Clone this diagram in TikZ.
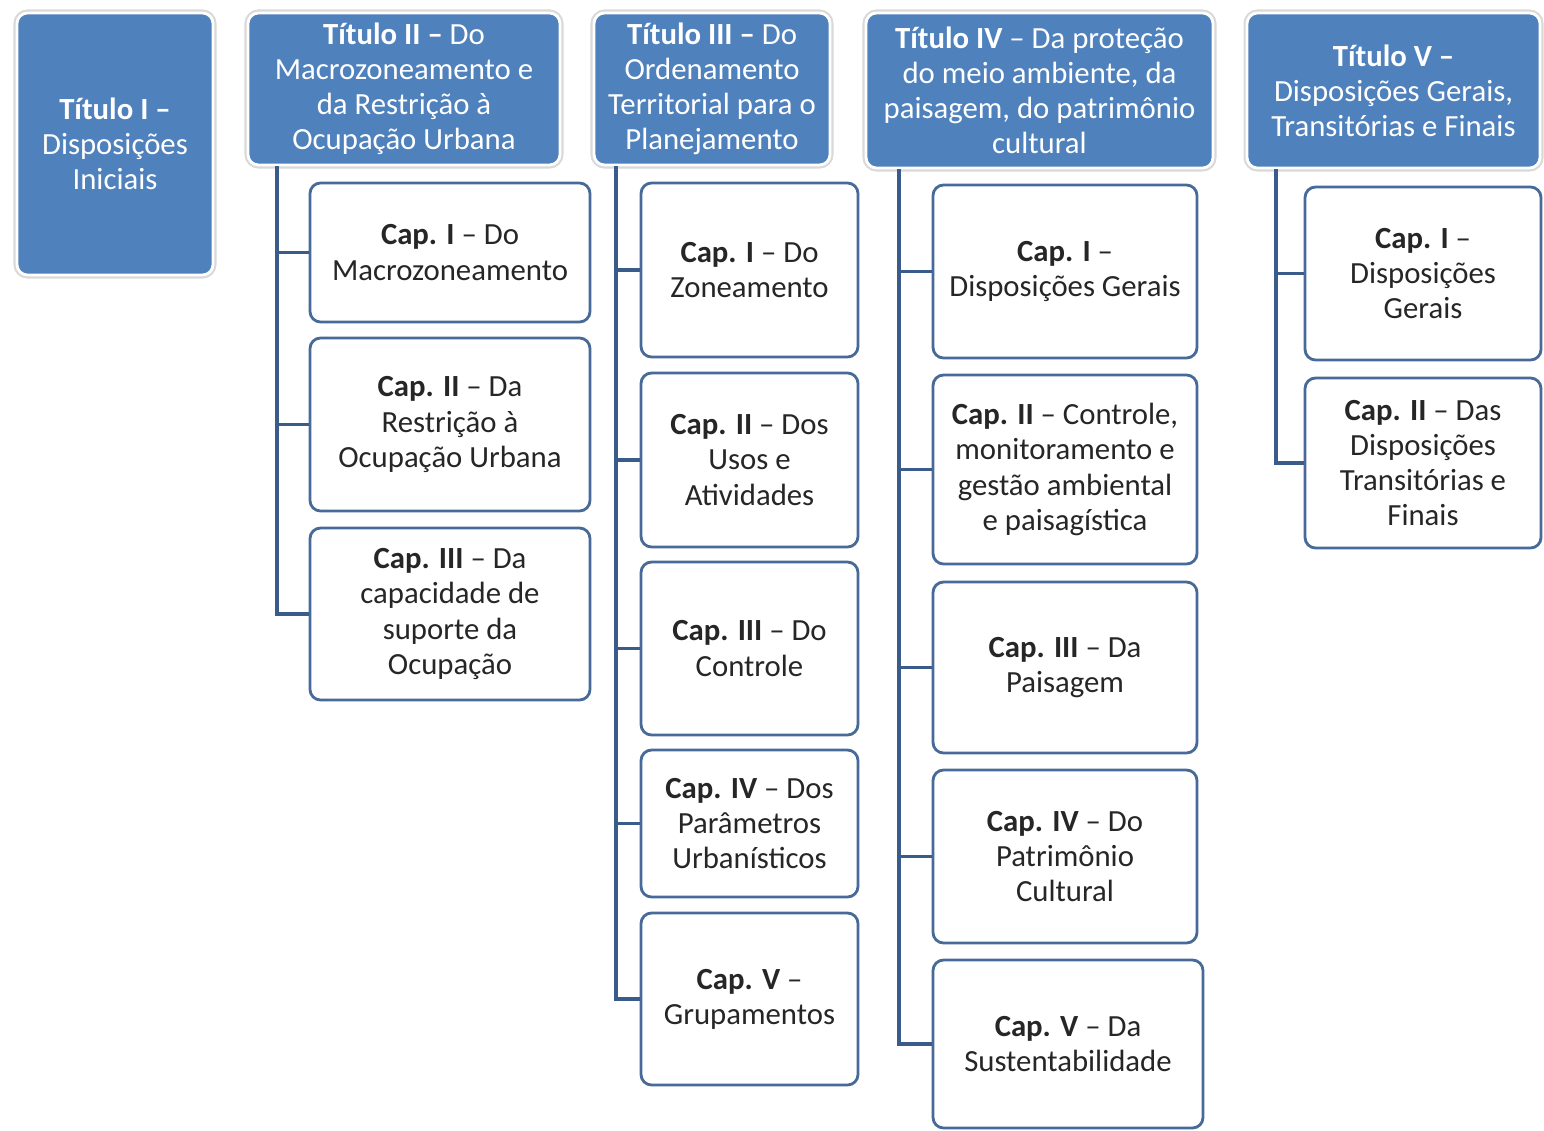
\documentclass[tikz,border=0pt]{standalone}
\usepackage{fontspec}
\setmainfont{Carlito}
\usetikzlibrary{positioning,calc}
\definecolor{tblue}{RGB}{79,129,189}
\definecolor{cedge}{RGB}{72,106,152}
\definecolor{clink}{RGB}{58,92,138}

\begin{document}
\begin{tikzpicture}[
  x=0.2mm, y=-0.2mm,
  font=\fontsize{17.5}{20}\selectfont,
  titulo/.style={rounded corners=6pt, fill=tblue, draw=white, line width=1.6pt,
                 preaction={draw=black!15, line width=4pt},
                 text=white, align=center, inner sep=0pt},
  chap/.style={rounded corners=6pt, fill=white, draw=cedge, line width=1.6pt,
               text=black!85, align=center, inner sep=0pt},
  link/.style={draw=clink, line width=2.2pt}
]
\useasboundingbox (0,0) rectangle (1544,1130);
% titulos
\node[titulo, minimum width=39.2mm, minimum height=52.4mm] (t1) at (115,144) {\textbf{Título I –}\\Disposições\\Iniciais};
\node[titulo, minimum width=62.4mm, minimum height=30.4mm] (t2) at (404,89) {\textbf{Título II –} Do\\Macrozoneamento e\\da Restrição à\\Ocupação Urbana};
\node[titulo, minimum width=47.2mm, minimum height=30.4mm] (t3) at (712,89) {\textbf{Título III –} Do\\Ordenamento\\Territorial para o\\Planejamento};
\node[titulo, minimum width=69.4mm, minimum height=31mm] (t4) at (1039.5,90.5) {\textbf{Título IV} – Da proteção\\do meio ambiente, da\\paisagem, do patrimônio\\cultural};
\node[titulo, minimum width=58.6mm, minimum height=31mm] (t5) at (1393.5,90.5) {\textbf{Título V –}\\Disposições Gerais,\\Transitórias e Finais};
% capitulos do titulo II
\node[chap, minimum width=56mm, minimum height=27.8mm] (t2c1) at (450,252.5) {\textbf{Cap. I} – Do\\Macrozoneamento};
\node[chap, minimum width=56mm, minimum height=34.6mm] (t2c2) at (450,424.5) {\textbf{Cap. II} – Da\\Restrição à\\Ocupação Urbana};
\node[chap, minimum width=56mm, minimum height=34.4mm] (t2c3) at (450,614) {\textbf{Cap. III} – Da\\capacidade de\\suporte da\\Ocupação};
% capitulos do titulo III
\node[chap, minimum width=43.4mm, minimum height=34.8mm] (t3c1) at (749.5,270) {\textbf{Cap. I} – Do\\Zoneamento};
\node[chap, minimum width=43.4mm, minimum height=34.8mm] (t3c2) at (749.5,460) {\textbf{Cap. II} – Dos\\Usos e\\Atividades};
\node[chap, minimum width=43.4mm, minimum height=34.6mm] (t3c3) at (749.5,648.5) {\textbf{Cap. III} – Do\\Controle};
\node[chap, minimum width=43.4mm, minimum height=29.4mm] (t3c4) at (749.5,823.5) {\textbf{Cap. IV} – Dos\\Parâmetros\\Urbanísticos};
\node[chap, minimum width=43.4mm, minimum height=34.4mm] (t3c5) at (749.5,999) {\textbf{Cap. V} –\\Grupamentos};
% capitulos do titulo IV
\node[chap, minimum width=52.8mm, minimum height=34.6mm] (t4c1) at (1065,271.5) {\textbf{Cap. I} –\\Disposições Gerais};
\node[chap, minimum width=52.8mm, minimum height=37.8mm] (t4c2) at (1065,469.5) {\textbf{Cap. II} – Controle,\\monitoramento e\\gestão ambiental\\e paisagística};
\node[chap, minimum width=52.8mm, minimum height=34.2mm] (t4c3) at (1065,667.5) {\textbf{Cap. III} – Da\\Paisagem};
\node[chap, minimum width=52.8mm, minimum height=34.6mm] (t4c4) at (1065,856.5) {\textbf{Cap. IV} – Do\\Patrimônio\\Cultural};
\node[chap, minimum width=54mm, minimum height=33.6mm] (t4c5) at (1068,1044) {\textbf{Cap. V} – Da\\Sustentabilidade};
% capitulos do titulo V
\node[chap, minimum width=47.2mm, minimum height=34.6mm] (t5c1) at (1423,273.5) {\textbf{Cap. I} –\\Disposições\\Gerais};
\node[chap, minimum width=47.2mm, minimum height=34mm] (t5c2) at (1423,463) {\textbf{Cap. II} – Das\\Disposições\\Transitórias e\\Finais};
% ligacoes
\draw[link] ($(t2.south west)+(30,0)$) |- (t2c1.west);
\draw[link] ($(t2.south west)+(30,0)$) |- (t2c2.west);
\draw[link] ($(t2.south west)+(30,0)$) |- (t2c3.west);
\draw[link] ($(t3.south west)+(23,0)$) |- (t3c1.west);
\draw[link] ($(t3.south west)+(23,0)$) |- (t3c2.west);
\draw[link] ($(t3.south west)+(23,0)$) |- (t3c3.west);
\draw[link] ($(t3.south west)+(23,0)$) |- (t3c4.west);
\draw[link] ($(t3.south west)+(23,0)$) |- (t3c5.west);
\draw[link] ($(t4.south west)+(34,0)$) |- (t4c1.west);
\draw[link] ($(t4.south west)+(34,0)$) |- (t4c2.west);
\draw[link] ($(t4.south west)+(34,0)$) |- (t4c3.west);
\draw[link] ($(t4.south west)+(34,0)$) |- (t4c4.west);
\draw[link] ($(t4.south west)+(34,0)$) |- (t4c5.west);
\draw[link] ($(t5.south west)+(30,0)$) |- (t5c1.west);
\draw[link] ($(t5.south west)+(30,0)$) |- (t5c2.west);
\end{tikzpicture}
\end{document}
